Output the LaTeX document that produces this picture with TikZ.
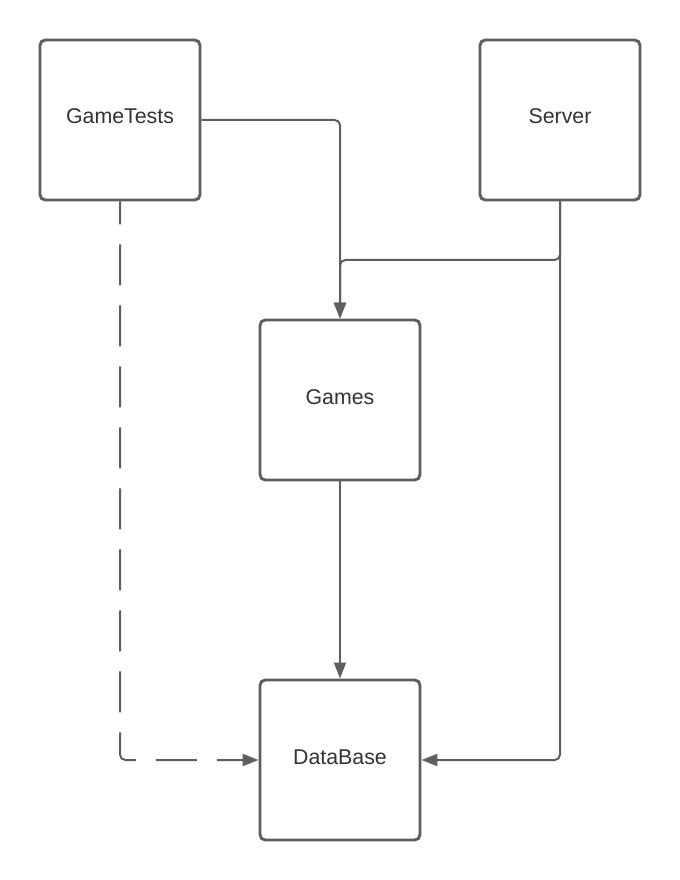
\documentclass[tikz,border=0pt]{standalone}
\usepackage{fontspec}
\setmainfont{Liberation Sans}
\usetikzlibrary{arrows.meta}
\definecolor{linegray}{HTML}{5E5E5E}
\definecolor{textgray}{HTML}{333333}

\begin{document}
\begin{tikzpicture}[x=0.75pt,y=-0.75pt,
    module/.style={draw=linegray, line width=2.2pt, rounded corners=4pt,
        minimum size=120pt, inner sep=0pt, text=textgray,
        text height=12pt, text depth=6pt,
        font=\fontsize{16}{19}\selectfont},
    link/.style={draw=linegray, line width=1.5pt, rounded corners=4pt,
        -{Triangle[length=12pt,width=9pt]}}]
    \useasboundingbox (0,0) rectangle (680,880);
    \node[module] (tests) at (120,120) {GameTests};
    \node[module] (server) at (560,120) {Server};
    \node[module] (games) at (340,400) {Games};
    \node[module] (db) at (340,760) {DataBase};
    \coordinate (split) at (560,260);
    \draw[link] (tests.east) -| (games.north);
    \draw[link] (server.south) -- (split) -| (games.north);
    \draw[link] (server.south) |- (db.east);
    \draw[link] (games.south) -- (db.north);
    \draw[link, dash pattern=on 30.75pt off 15pt, dash phase=13.5pt]
        (tests.south) |- (db.west);
\end{tikzpicture}
\end{document}
